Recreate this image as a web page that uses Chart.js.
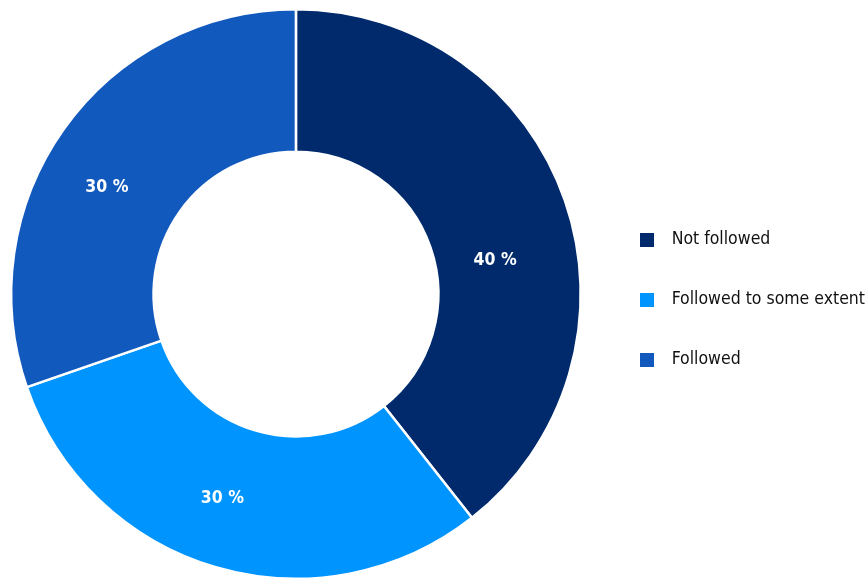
<!DOCTYPE html>
<html>
<head>
<meta charset="utf-8">
<script src="https://cdn.jsdelivr.net/npm/chart.js@4"></script>
<style>
  html, body { margin: 0; padding: 0; background: #fff; }
  #wrap { width: 867px; height: 580px; }
</style>
</head>
<body>
<div id="wrap"><canvas id="chart" width="867" height="580"></canvas></div>
<script>
// données
const categories = ['Not followed', 'Followed to some extent', 'Followed'];
const counts = [13, 10, 10];
const pctLabels = ['40 %', '30 %', '30 %'];
const colors = ['#002a6c', '#0094ff', '#1259be'];

const FONT = "'DejaVu Sans Condensed', 'Liberation Sans Narrow', sans-serif";

// petit carré coloré pour la légende
function makeSwatch(color) {
    const c = document.createElement('canvas');
    c.width = 14;
    c.height = 14;
    const g = c.getContext('2d');
    g.fillStyle = color;
    g.fillRect(0, 0, 14, 14);
    return c;
}
const swatches = colors.map(makeSwatch);

// décalage des étiquettes (degrés, pixels) par rapport au milieu de chaque secteur
const labelNudge = [[8.6, -11], [3.7, 1], [-5.3, 5]];

const sliceLabels = {
    id: 'sliceLabels',
    afterDatasetsDraw(chart) {
        const ctx = chart.ctx;
        const meta = chart.getDatasetMeta(0);
        ctx.save();
        ctx.font = 'bold 17.5px ' + FONT;
        ctx.fillStyle = '#ffffff';
        ctx.textAlign = 'center';
        ctx.textBaseline = 'middle';
        meta.data.forEach((arc, i) => {
            const p = arc.getProps(['x', 'y', 'startAngle', 'endAngle', 'innerRadius', 'outerRadius'], true);
            const a = (p.startAngle + p.endAngle) / 2 + labelNudge[i][0] * Math.PI / 180;
            const r = (p.innerRadius + p.outerRadius) / 2 + labelNudge[i][1];
            ctx.fillText(pctLabels[i], p.x + Math.cos(a) * r, p.y + Math.sin(a) * r + 3);
        });
        ctx.restore();
    }
};

const ctx = document.getElementById('chart').getContext('2d');
const chart = new Chart(ctx, {
    type: 'doughnut',
    data: {
        labels: categories,
        datasets: [{
            data: counts,
            backgroundColor: colors,
            borderColor: '#ffffff',
            borderWidth: 2.5,
            hoverOffset: 0
        }]
    },
    options: {
        responsive: false,
        animation: false,
        cutout: '50%',
        layout: {
            padding: { top: 8, bottom: -4, left: 4, right: -8 }
        },
        plugins: {
            tooltip: { enabled: false },
            legend: {
                position: 'right',
                title: { display: true, text: '', padding: 0, font: { size: 6 } },
                labels: {
                    usePointStyle: true,
                    pointStyleWidth: 32.5,
                    padding: 42.5,
                    color: '#111111',
                    font: { family: FONT, size: 17.5 },
                    generateLabels(chart) {
                        return categories.map((label, i) => ({
                            text: label,
                            fillStyle: colors[i],
                            strokeStyle: colors[i],
                            lineWidth: 0,
                            fontColor: '#111111',
                            pointStyle: swatches[i],
                            hidden: false,
                            index: i
                        }));
                    }
                }
            }
        }
    },
    plugins: [sliceLabels]
});
</script>
</body>
</html>
